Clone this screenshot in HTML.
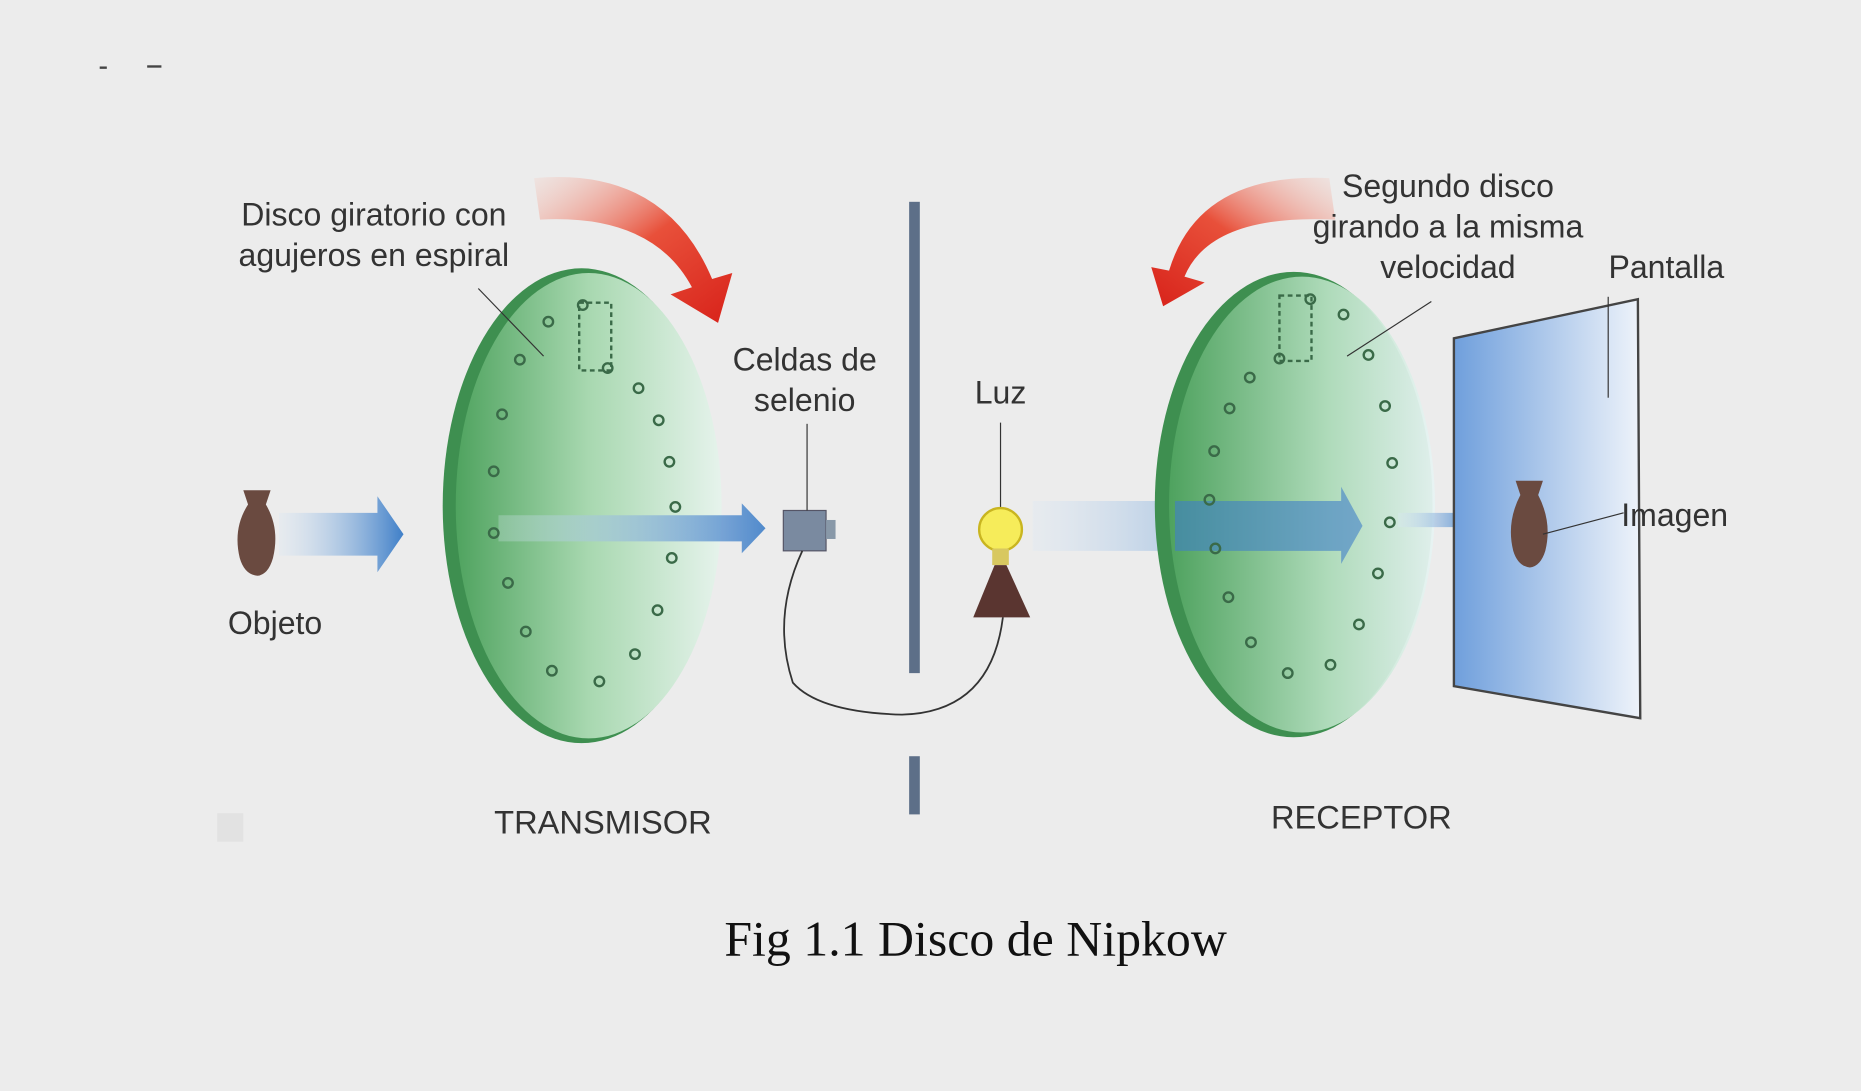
<!DOCTYPE html>
<html><head><meta charset="utf-8"><style>
html,body{margin:0;padding:0;background:#ececec;}
svg{display:block;}
text{font-family:"Liberation Sans",sans-serif;fill:#333;}
</style></head><body>
<svg width="1861" height="1091" viewBox="0 0 1568 919" preserveAspectRatio="none">
<defs>
<linearGradient id="disc" x1="0" x2="1" y1="0" y2="0">
<stop offset="0" stop-color="#4fa35f"/><stop offset="0.5" stop-color="#a8d8b0"/><stop offset="1" stop-color="#e6f3ec"/></linearGradient>
<linearGradient id="disc2" x1="0" x2="1" y1="0" y2="0">
<stop offset="0" stop-color="#4fa35f"/><stop offset="0.6" stop-color="#b5dfc0"/><stop offset="1" stop-color="#e8f4f4"/></linearGradient>
<linearGradient id="blue" x1="0" x2="1"><stop offset="0" stop-color="#dbe8f5" stop-opacity="0.3"/><stop offset="1" stop-color="#3f7fc8"/></linearGradient>
<linearGradient id="red" x1="0" x2="1" y1="0" y2="1"><stop offset="0" stop-color="#f6c2b5" stop-opacity="0.2"/><stop offset="0.5" stop-color="#e8503a"/><stop offset="1" stop-color="#d8221a"/></linearGradient>
<linearGradient id="red2" x1="1" x2="0" y1="0" y2="1"><stop offset="0" stop-color="#f6c2b5" stop-opacity="0.2"/><stop offset="0.5" stop-color="#e8503a"/><stop offset="1" stop-color="#d8221a"/></linearGradient>
<linearGradient id="screen" x1="0" x2="1"><stop offset="0" stop-color="#6f9fdc"/><stop offset="1" stop-color="#eef3fa"/></linearGradient>
</defs>
<rect width="1568" height="919" fill="#ececec"/>
<rect x="84" y="56" width="6" height="2" fill="#444"/><rect x="124" y="55" width="12" height="2" fill="#444"/>
<rect x="183" y="685" width="22" height="24" fill="#e2e2e2"/>

<path d="M450 150 Q560 140 600 235 L617 230 L605 272 L565 248 L583 242 Q550 180 455 185 Z" fill="url(#red)"/>
<path d="M1120 150 Q1010 145 985 228 L970 225 L980 258 L1015 238 L998 233 Q1020 180 1125 185 Z" fill="url(#red2)"/>

<g>
<path d="M205 413 L228 413 L224 425 Q236 445 230 470 Q226 484 217 485 Q206 484 202 470 Q196 445 209 425 Z" fill="#6a4a40"/>
</g>
<path d="M235 432 L318 432 L318 418 L340 450 L318 482 L318 468 L235 468 Z" fill="url(#blue)"/>

<g>
<ellipse cx="490" cy="426" rx="117" ry="200" fill="#3e8f50"/>
<ellipse cx="496" cy="426" rx="112" ry="196" fill="url(#disc)"/>
<path d="M420 434 L625 434 L625 424 L645 445 L625 466 L625 456 L420 456 Z" fill="url(#blue)" opacity="0.9"/>
<g fill="none" stroke="#3a6a48" stroke-width="2">
<circle cx="462" cy="271" r="4"/><circle cx="438" cy="303" r="4"/><circle cx="423" cy="349" r="4"/><circle cx="416" cy="397" r="4"/><circle cx="416" cy="449" r="4"/><circle cx="428" cy="491" r="4"/><circle cx="443" cy="532" r="4"/><circle cx="465" cy="565" r="4"/><circle cx="505" cy="574" r="4"/><circle cx="535" cy="551" r="4"/><circle cx="554" cy="514" r="4"/><circle cx="566" cy="470" r="4"/><circle cx="569" cy="427" r="4"/><circle cx="564" cy="389" r="4"/><circle cx="555" cy="354" r="4"/><circle cx="538" cy="327" r="4"/><circle cx="512" cy="310" r="4"/><circle cx="491" cy="257" r="4"/>
<rect x="488" y="255" width="27" height="57" stroke-dasharray="4 3"/>
</g>
<line x1="403" y1="243" x2="458" y2="300" stroke="#333" stroke-width="1"/>
</g>

<g>
<rect x="660" y="430" width="36" height="34" fill="#7a8aa0" stroke="#556" />
<rect x="696" y="438" width="8" height="16" fill="#8898a8"/>
<line x1="680" y1="357" x2="680" y2="430" stroke="#333"/>
<path d="M676 464 Q650 520 668 575 Q690 600 760 602 Q835 600 845 520" fill="none" stroke="#333" stroke-width="1.5"/>
</g>

<rect x="766" y="170" width="9" height="397" fill="#5d6f88"/>
<rect x="766" y="637" width="9" height="49" fill="#5d6f88"/>

<g>
<line x1="843" y1="356" x2="843" y2="428" stroke="#333"/>
<circle cx="843" cy="446" r="18" fill="#f6ec5a" stroke="#c9b520" stroke-width="2"/>
<rect x="836" y="462" width="14" height="14" fill="#d8c860"/>
<path d="M838 476 L848 476 L868 520 L820 520 Z" fill="#5a3530"/>
</g>

<path d="M870 422 L1130 422 L1130 410 L1148 443 L1130 475 L1130 464 L870 464 Z" fill="url(#blue)"/>

<g>
<ellipse cx="1090" cy="425" rx="117" ry="196" fill="#3e8f50"/>
<ellipse cx="1097" cy="425" rx="112" ry="192" fill="url(#disc2)" opacity="0.95"/>
<path d="M990 422 L1130 422 L1130 410 L1148 443 L1130 475 L1130 464 L990 464 Z" fill="#3f7fc8" opacity="0.6"/>
<g fill="none" stroke="#3a6a48" stroke-width="2">
<circle cx="1132" cy="265" r="4"/><circle cx="1153" cy="299" r="4"/><circle cx="1167" cy="342" r="4"/><circle cx="1173" cy="390" r="4"/><circle cx="1171" cy="440" r="4"/><circle cx="1161" cy="483" r="4"/><circle cx="1145" cy="526" r="4"/><circle cx="1121" cy="560" r="4"/><circle cx="1085" cy="567" r="4"/><circle cx="1054" cy="541" r="4"/><circle cx="1035" cy="503" r="4"/><circle cx="1024" cy="462" r="4"/><circle cx="1019" cy="421" r="4"/><circle cx="1023" cy="380" r="4"/><circle cx="1036" cy="344" r="4"/><circle cx="1053" cy="318" r="4"/><circle cx="1078" cy="302" r="4"/><circle cx="1104" cy="252" r="4"/>
<rect x="1078" y="249" width="27" height="55" stroke-dasharray="4 3"/>
</g>
<line x1="1206" y1="254" x2="1135" y2="300" stroke="#333"/>
</g>
<path d="M1178 432 L1235 432 L1235 426 L1247 438 L1235 450 L1235 444 L1178 444 Z" fill="url(#blue)"/>

<g>
<path d="M1225 285 L1380 252 L1382 605 L1225 578 Z" fill="url(#screen)" stroke="#444" stroke-width="2"/>
<line x1="1355" y1="250" x2="1355" y2="335" stroke="#333"/>
<path d="M1277 405 L1300 405 L1296 417 Q1308 440 1302 464 Q1298 477 1289 478 Q1279 477 1275 464 Q1269 440 1281 417 Z" fill="#6a4a40"/>
<line x1="1300" y1="450" x2="1368" y2="432" stroke="#333"/>
</g>

<text x="315" y="190" font-size="27" text-anchor="middle">Disco giratorio con</text>
<text x="315" y="224" font-size="27" text-anchor="middle">agujeros en espiral</text>
<text x="678" y="312" font-size="27" text-anchor="middle">Celdas de</text>
<text x="678" y="346" font-size="27" text-anchor="middle">selenio</text>
<text x="843" y="340" font-size="27" text-anchor="middle">Luz</text>
<text x="1220" y="166" font-size="27" text-anchor="middle">Segundo disco</text>
<text x="1220" y="200" font-size="27" text-anchor="middle">girando a la misma</text>
<text x="1220" y="234" font-size="27" text-anchor="middle">velocidad</text>
<text x="1404" y="234" font-size="27" text-anchor="middle">Pantalla</text>
<text x="1366" y="443" font-size="27">Imagen</text>
<text x="192" y="534" font-size="27">Objeto</text>
<text x="508" y="702" font-size="27.5" text-anchor="middle">TRANSMISOR</text>
<text x="1147" y="698" font-size="27.5" text-anchor="middle">RECEPTOR</text>
<text x="822" y="805" font-size="42" text-anchor="middle" style="font-family:'Liberation Serif',serif;fill:#111">Fig 1.1 Disco de Nipkow</text>
</svg>
</body></html>
